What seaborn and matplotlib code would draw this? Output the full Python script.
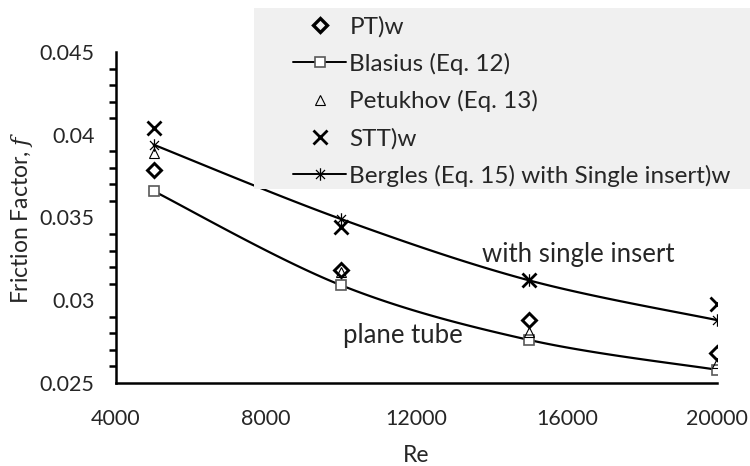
import numpy as np
import pandas as pd
import matplotlib
matplotlib.use("Agg")
import matplotlib.pyplot as plt
from matplotlib.lines import Line2D
from matplotlib.patches import Rectangle
from matplotlib.path import Path
from matplotlib.ticker import MultipleLocator
import seaborn as sns

# Reynolds numbers and friction factors
re_vals = [5000, 10000, 15000, 20000]
pt_w = [0.0379, 0.0318, 0.0288, 0.0268]
blasius = [0.0366, 0.0309, 0.0276, 0.0258]
petukhov = [0.0389, 0.0317, 0.0281, 0.0262]
stt_w = [0.0404, 0.0344, 0.0312, 0.0298]
bergles = [0.0394, 0.0349, 0.0312, 0.0288]

labels = ["PT)w", "Blasius (Eq. 12)", "Petukhov (Eq. 13)", "STT)w",
          "Bergles (Eq. 15) with Single insert)w"]

sns.set_theme(style="white")
plt.rcParams["font.family"] = ["Lato", "DejaVu Sans"]
plt.rcParams["mathtext.fontset"] = "custom"
plt.rcParams["mathtext.it"] = "DejaVu Serif:italic"
plt.rcParams["mathtext.rm"] = "Lato"

TXT = "#262626"
FS_TICK = 15.5
FS_LABEL = 16.5
FS_LEG = 17.5
FS_NOTE = 18.5


def smooth_curve(xs, ys, n=40):
    """Catmull-Rom style smoothing (Bezier with 1/6 tangent handles)."""
    p = np.column_stack([xs, ys]).astype(float)
    ext = np.vstack([p[0], p, p[-1]])
    out = []
    for i in range(len(p) - 1):
        p0, p1, p2, p3 = ext[i], ext[i + 1], ext[i + 2], ext[i + 3]
        c1 = p1 + (p2 - p0) / 6.0
        c2 = p2 - (p3 - p1) / 6.0
        t = np.linspace(0, 1, n)[:, None]
        seg = ((1 - t) ** 3) * p1 + 3 * ((1 - t) ** 2) * t * c1 \
            + 3 * (1 - t) * t ** 2 * c2 + t ** 3 * p2
        out.append(seg if i == 0 else seg[1:])
    return np.vstack(out)


# asterisk marker: an x crossed by a vertical bar
ast_marker = Path(
    [(0, -1), (0, 1), (-0.72, -0.72), (0.72, 0.72), (-0.72, 0.72), (0.72, -0.72)],
    [Path.MOVETO, Path.LINETO, Path.MOVETO, Path.LINETO, Path.MOVETO, Path.LINETO],
)

fig = plt.figure(figsize=(7.5, 4.66), dpi=100)
ax = fig.add_axes([116 / 750, 1 - 383 / 466, (717 - 116) / 750, (383 - 52) / 466])

# scale so the smoothing is done in roughly screen-proportional space
sx = 1.0 / 16000.0
sy = 1.0 / 0.020
for series in (blasius, bergles):
    xs = np.array(re_vals) * sx
    ys = np.array(series) * sy
    c = smooth_curve(xs, ys)
    df_c = pd.DataFrame({"Re": c[:, 0] / sx, "f": c[:, 1] / sy})
    sns.lineplot(data=df_c, x="Re", y="f", sort=False, estimator=None,
                 color="black", linewidth=1.6, ax=ax, zorder=2)

df = pd.DataFrame({"Re": re_vals, "PT": pt_w, "Blasius": blasius,
                   "Petukhov": petukhov, "STT": stt_w, "Bergles": bergles})

styles = {
    "Blasius": dict(marker="s", markersize=7.5, markeredgewidth=1.2,
                    markeredgecolor="#595959", markerfacecolor="white"),
    "Petukhov": dict(marker="^", markersize=6.5, markeredgewidth=0.8,
                     markeredgecolor="black", markerfacecolor="none"),
    "PT": dict(marker="D", markersize=6.8, markeredgewidth=2.1,
               markeredgecolor="black", markerfacecolor="none"),
    "Bergles": dict(marker=ast_marker, markersize=9, markeredgewidth=0.9,
                    markeredgecolor="black", markerfacecolor="none"),
    "STT": dict(marker="x", markersize=10, markeredgewidth=2.0,
                markeredgecolor="black", markerfacecolor="none"),
}
for col, st in styles.items():
    sns.lineplot(data=df, x="Re", y=col, linestyle="", color="black",
                 ax=ax, zorder=3, **st)

ax.set_xlim(4000, 20000)
ax.set_ylim(0.025, 0.045)
ax.xaxis.set_major_locator(MultipleLocator(4000))
ax.yaxis.set_minor_locator(MultipleLocator(0.001))
ax.set_yticks([0.025, 0.03, 0.035, 0.04, 0.045])
ax.set_yticklabels(["0.025", "0.03", "0.035", "0.04", "0.045"])

for s in ("top", "right"):
    ax.spines[s].set_visible(False)
for s in ("left", "bottom"):
    ax.spines[s].set_linewidth(1.8)
    ax.spines[s].set_color("black")

ax.tick_params(axis="both", which="major", direction="inout", length=11,
               width=1.8, color="black", labelsize=FS_TICK, labelcolor=TXT)
ax.tick_params(axis="y", which="major", pad=10)
ax.tick_params(axis="y", which="minor", direction="out", length=5,
               width=1.8, color="black", left=True)
ax.tick_params(axis="x", which="major", pad=13)
ax.grid(False)

ax.set_xlabel("Re", fontsize=FS_LABEL, color=TXT, labelpad=12)
ax.set_ylabel("Friction Factor, $\\mathit{f}$", fontsize=FS_LABEL, color=TXT,
              labelpad=3)

ax.text(16306, 0.03274, "with single insert", fontsize=FS_NOTE, color=TXT,
        ha="center", va="center")
ax.text(11628, 0.0279, "plane tube", fontsize=FS_NOTE, color=TXT,
        ha="center", va="center")

# legend panel
fig.patches.append(Rectangle((254 / 750, 1 - 189 / 466), (750 - 254) / 750, (189 - 8) / 466,
                             transform=fig.transFigure, facecolor="#f0f0f0",
                             edgecolor="none", zorder=4))


def handle(col, with_line):
    st = dict(styles[col])
    if col == "PT":
        st["markersize"] = 7.5
        st["markeredgewidth"] = 2.4
    return Line2D([0], [0], color="black", linewidth=1.4 if with_line else 0,
                  linestyle="-" if with_line else "", **st)


handles = [handle("PT", False), handle("Blasius", True), handle("Petukhov", False),
           handle("STT", False), handle("Bergles", True)]
leg = fig.legend(handles, labels, loc="upper left",
                 bbox_to_anchor=(293 / 750, 1 - 16 / 466), frameon=False,
                 fontsize=FS_LEG, handlelength=2.2, handletextpad=0.12,
                 labelspacing=0.63, borderpad=0, borderaxespad=0)
leg.set_zorder(5)
for t in leg.get_texts():
    t.set_color(TXT)

fig.savefig("out.png", dpi=100)
